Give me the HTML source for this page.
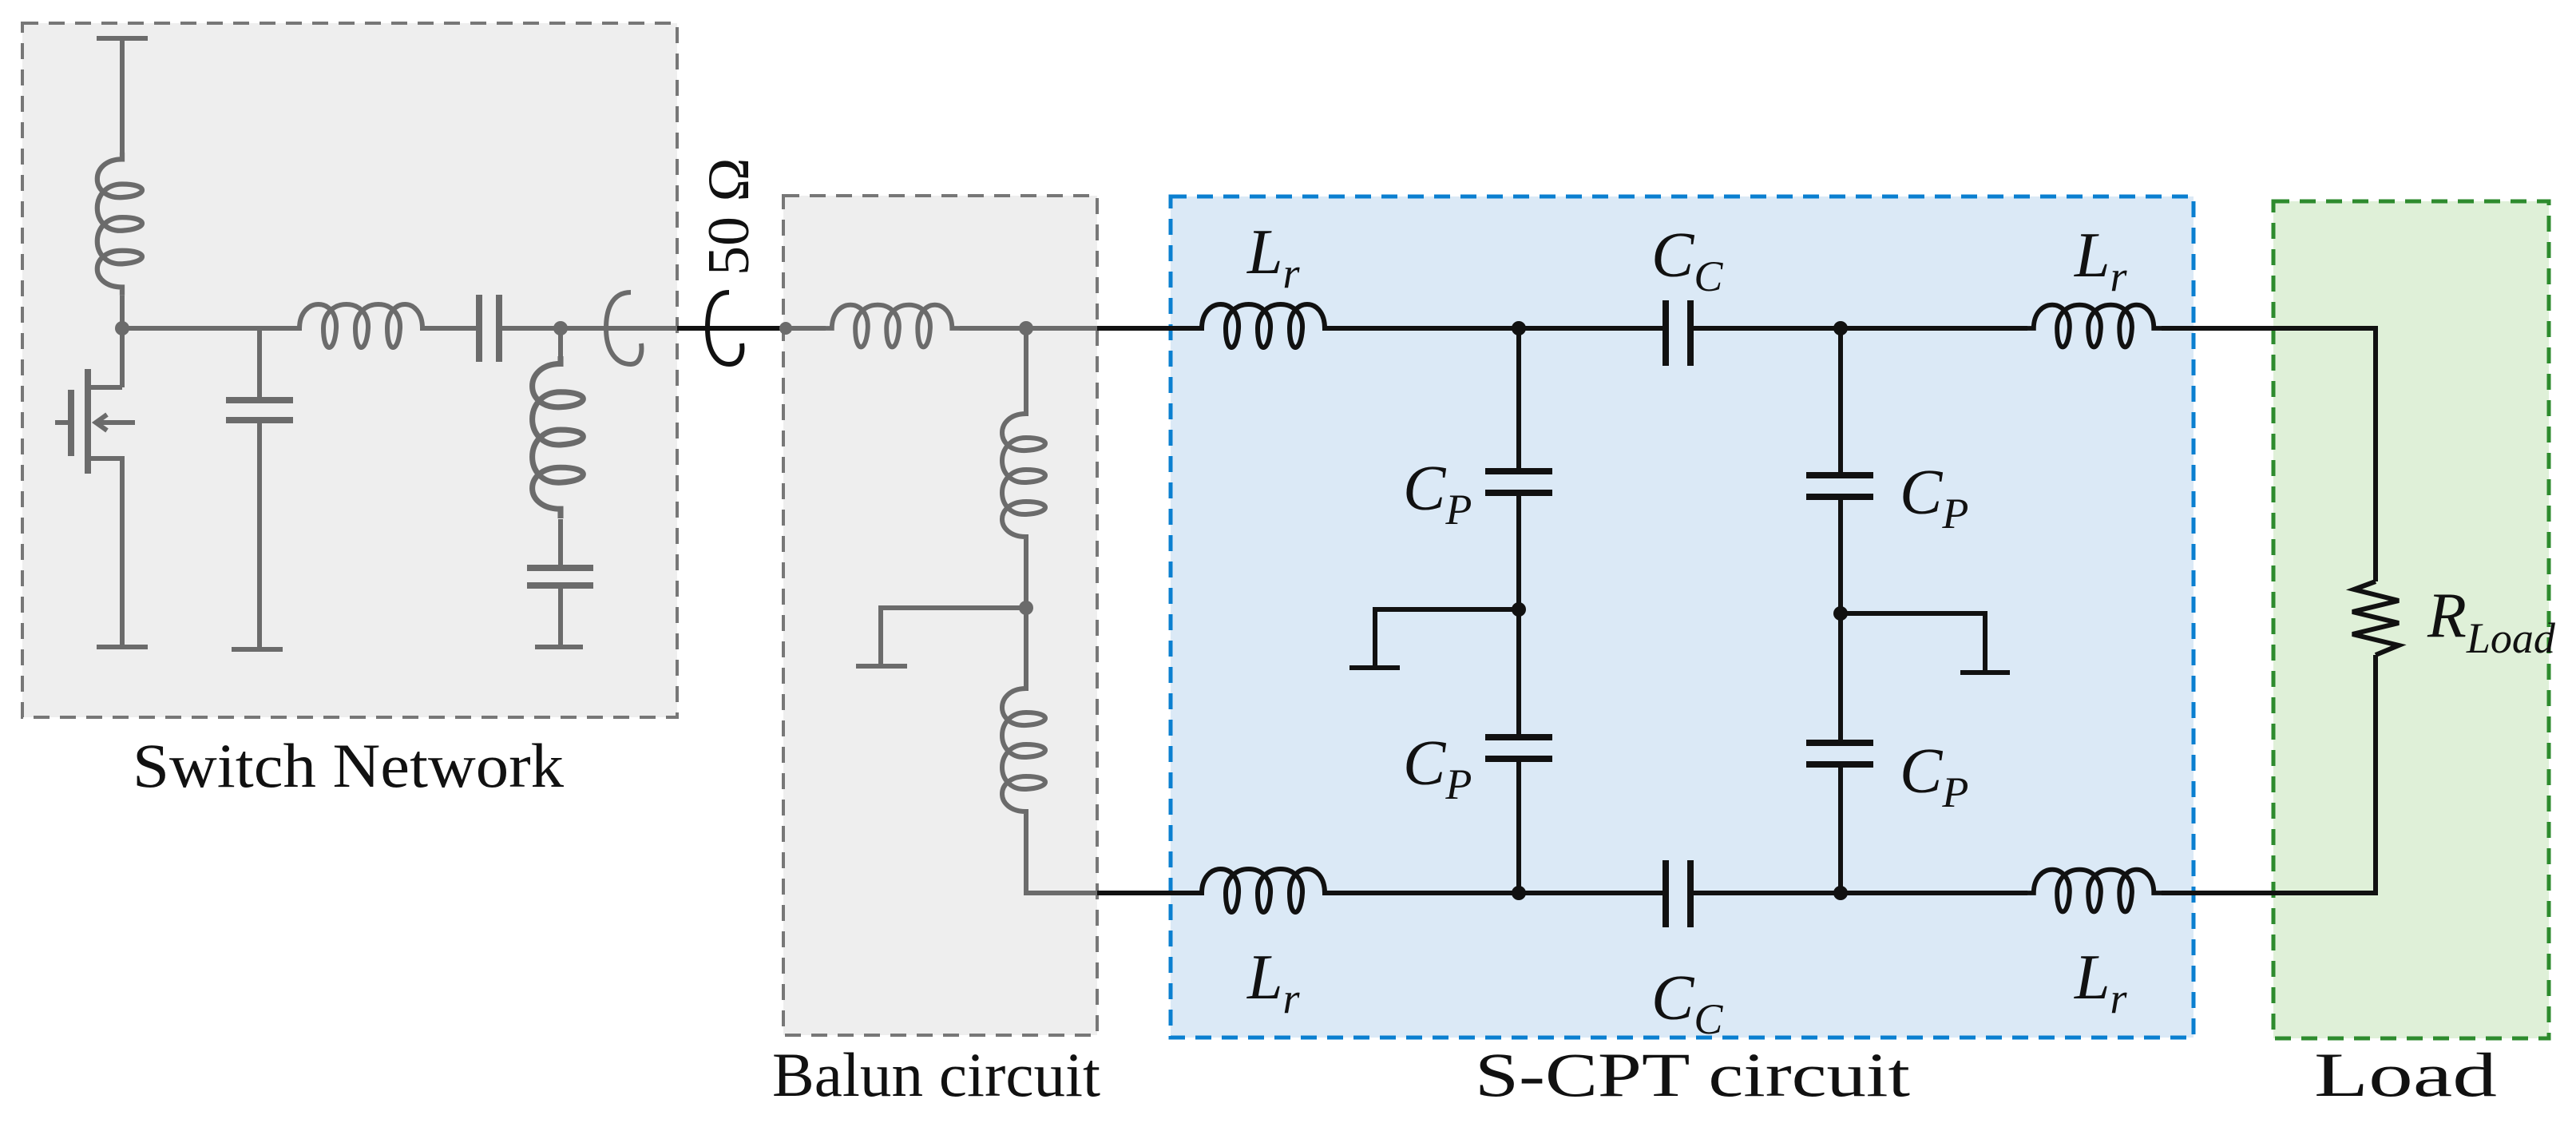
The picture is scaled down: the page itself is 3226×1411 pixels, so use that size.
<!DOCTYPE html>
<html><head><meta charset="utf-8"><style>
html,body{margin:0;padding:0;background:#fff;}
svg{display:block;}
text{font-family:"Liberation Serif",serif;}
.lab{font-style:italic;font-size:80px;fill:#111;}
.sub{font-size:54px;}
.sec{font-size:78px;fill:#111;}
</style></head><body>
<svg width="3226" height="1411" viewBox="0 0 3226 1411" xmlns="http://www.w3.org/2000/svg">
<defs>
<path id="ind" d="M0 0 H8 C8 -40, 56 -40, 54 0 C52 32, 38 32, 38 0 C38 -40, 96 -40, 94 0 C92 32, 78 32, 78 0 C78 -40, 136 -40, 134 0 C132 32, 118 32, 118 0 C118 -40, 162 -40, 162 0 H172" fill="none"/>
</defs>
<!-- boxes -->
<rect x="28" y="29" width="820" height="869" fill="#eeeeee" stroke="#777" stroke-width="4" stroke-dasharray="20 13"/>
<rect x="981" y="245" width="393" height="1051" fill="#eeeeee" stroke="#777" stroke-width="4" stroke-dasharray="20 13"/>
<rect x="1466" y="246" width="1281" height="1053" fill="#dbe9f6" stroke="#0a7fd0" stroke-width="5" stroke-dasharray="20 13"/>
<rect x="2847" y="252" width="345" height="1048" fill="#dff0d8" stroke="#2e8b2e" stroke-width="5" stroke-dasharray="20 13"/>

<!-- switch network (gray) -->
<g stroke="#6b6b6b" stroke-width="6" fill="none">
<line x1="121" y1="48" x2="185" y2="48"/>
<line x1="153" y1="48" x2="153" y2="191"/>
<use href="#ind" transform="translate(153,191) rotate(90) scale(1,-1) scale(1.04)"/>
<line x1="153" y1="370" x2="153" y2="485"/>
<line x1="153" y1="411" x2="367" y2="411"/>
<use href="#ind" transform="translate(367,411)"/>
<line x1="539" y1="411" x2="600" y2="411"/>
<line x1="625" y1="411" x2="848" y2="411"/>
<line x1="600" y1="369" x2="600" y2="453" stroke-width="8"/>
<line x1="625" y1="369" x2="625" y2="453" stroke-width="8"/>
<!-- transistor -->
<polyline points="153,485 110,485"/>
<line x1="110" y1="462" x2="110" y2="593" stroke-width="8"/>
<line x1="89" y1="488" x2="89" y2="571" stroke-width="8"/>
<line x1="69" y1="529" x2="89" y2="529"/>
<line x1="169" y1="529" x2="122" y2="529"/>
<polyline points="134,519 120,529 134,539"/>
<polyline points="110,574 153,574 153,810"/>
<line x1="121" y1="810" x2="185" y2="810"/>
<!-- shunt cap -->
<line x1="325" y1="411" x2="325" y2="501"/>
<line x1="283" y1="501" x2="367" y2="501" stroke-width="8"/>
<line x1="283" y1="526" x2="367" y2="526" stroke-width="8"/>
<line x1="325" y1="526" x2="325" y2="813"/>
<line x1="290" y1="813" x2="354" y2="813"/>
<!-- shunt LC -->
<line x1="702" y1="411" x2="702" y2="446"/>
<use href="#ind" transform="translate(702,446) rotate(90) scale(1,-1) scale(1.18)"/>
<line x1="702" y1="650" x2="702" y2="711"/>
<line x1="660" y1="711" x2="743" y2="711" stroke-width="8"/>
<line x1="660" y1="733" x2="743" y2="733" stroke-width="8"/>
<line x1="702" y1="733" x2="702" y2="810"/>
<line x1="670" y1="810" x2="730" y2="810"/>
<!-- probe loop -->
<path d="M790 366 C765 366, 759 390, 759 411 C759 440, 772 456, 790 456 C800 456, 805 445, 803 430"/>
</g>
<circle cx="153" cy="411" r="9" fill="#6b6b6b"/>
<circle cx="702" cy="411" r="9" fill="#6b6b6b"/>

<!-- 50 ohm -->
<g stroke="#111" stroke-width="6" fill="none">
<line x1="848" y1="411" x2="984" y2="411"/>
<path d="M913 366 C890 366, 886 390, 886 411 C886 440, 898 456, 913 456 C926 456, 931 445, 929 430"/>
</g>
<text transform="translate(937,345) rotate(-90)" font-size="74" fill="#111">50 Ω</text>

<!-- balun (gray) -->
<g stroke="#6b6b6b" stroke-width="6" fill="none">
<line x1="984" y1="411" x2="1034" y2="411"/>
<use href="#ind" transform="translate(1034,411) scale(0.977)"/>
<line x1="1202" y1="411" x2="1374" y2="411"/>
<line x1="1285" y1="411" x2="1285" y2="510"/>
<use href="#ind" transform="translate(1285,510)rotate(90) scale(1,-1)"/>
<line x1="1285" y1="682" x2="1285" y2="854"/>
<polyline points="1285,761 1103,761 1103,834"/>
<line x1="1072" y1="834" x2="1136" y2="834"/>
<use href="#ind" transform="translate(1285,854) rotate(90) scale(1,-1)"/>
<polyline points="1285,1025 1285,1118 1374,1118"/>
</g>
<circle cx="984" cy="411" r="8" fill="#6b6b6b"/>
<circle cx="1285" cy="411" r="9" fill="#6b6b6b"/>
<circle cx="1285" cy="761" r="9" fill="#6b6b6b"/>

<!-- S-CPT (black) -->
<g stroke="#111" stroke-width="6" fill="none">
<line x1="1374" y1="411" x2="1497" y2="411"/>
<use href="#ind" transform="translate(1497,411)"/>
<line x1="1669" y1="411" x2="2086" y2="411"/>
<line x1="2117" y1="411" x2="2539" y2="411"/>
<use href="#ind" transform="translate(2539,411) scale(0.977)"/>
<polyline points="2707,411 2975,411 2975,728"/>
<polyline points="2975,728 2948,738 3004,752 2946,766 3004,780 2946,794 3004,808 2975,820"/>
<polyline points="2975,820 2975,1118 2707,1118"/>
<use href="#ind" transform="translate(2539,1118) scale(0.977)"/>
<line x1="2539" y1="1118" x2="2117" y2="1118"/>
<line x1="2086" y1="1118" x2="1669" y2="1118"/>
<use href="#ind" transform="translate(1497,1118)"/>
<line x1="1497" y1="1118" x2="1374" y2="1118"/>
<line x1="2086" y1="376" x2="2086" y2="458" stroke-width="8"/>
<line x1="2117" y1="376" x2="2117" y2="458" stroke-width="8"/>
<line x1="2086" y1="1077" x2="2086" y2="1161" stroke-width="8"/>
<line x1="2117" y1="1077" x2="2117" y2="1161" stroke-width="8"/>
<line x1="1902" y1="411" x2="1902" y2="590"/>
<line x1="1860" y1="590" x2="1944" y2="590" stroke-width="8"/>
<line x1="1860" y1="617" x2="1944" y2="617" stroke-width="8"/>
<line x1="1902" y1="617" x2="1902" y2="923"/>
<line x1="1860" y1="923" x2="1944" y2="923" stroke-width="8"/>
<line x1="1860" y1="950" x2="1944" y2="950" stroke-width="8"/>
<line x1="1902" y1="950" x2="1902" y2="1118"/>
<polyline points="1902,763 1722,763 1722,836"/>
<line x1="1690" y1="836" x2="1753" y2="836"/>
<line x1="2305" y1="411" x2="2305" y2="595"/>
<line x1="2262" y1="595" x2="2346" y2="595" stroke-width="8"/>
<line x1="2262" y1="622" x2="2346" y2="622" stroke-width="8"/>
<line x1="2305" y1="622" x2="2305" y2="930"/>
<line x1="2262" y1="930" x2="2346" y2="930" stroke-width="8"/>
<line x1="2262" y1="957" x2="2346" y2="957" stroke-width="8"/>
<line x1="2305" y1="957" x2="2305" y2="1118"/>
<polyline points="2305,768 2486,768 2486,842"/>
<line x1="2455" y1="842" x2="2517" y2="842"/>
</g>
<g fill="#111">
<circle cx="1902" cy="411" r="9"/><circle cx="1902" cy="763" r="9"/><circle cx="1902" cy="1118" r="9"/>
<circle cx="2305" cy="411" r="9"/><circle cx="2305" cy="768" r="9"/><circle cx="2305" cy="1118" r="9"/>
</g>

<!-- component labels -->
<text class="lab" x="1562" y="342">L<tspan class="sub" dy="18">r</tspan></text>
<text class="lab" x="2598" y="346">L<tspan class="sub" dy="18">r</tspan></text>
<text class="lab" x="1562" y="1250">L<tspan class="sub" dy="18">r</tspan></text>
<text class="lab" x="2598" y="1250">L<tspan class="sub" dy="18">r</tspan></text>
<text class="lab" x="2068" y="346">C<tspan class="sub" dy="18">C</tspan></text>
<text class="lab" x="2068" y="1276">C<tspan class="sub" dy="18">C</tspan></text>
<text class="lab" x="1757" y="638">C<tspan class="sub" dy="18">P</tspan></text>
<text class="lab" x="1757" y="982">C<tspan class="sub" dy="18">P</tspan></text>
<text class="lab" x="2379" y="643">C<tspan class="sub" dy="18">P</tspan></text>
<text class="lab" x="2379" y="992">C<tspan class="sub" dy="18">P</tspan></text>
<text class="lab" x="3040" y="797" font-size="78">R<tspan class="sub" dy="20">Load</tspan></text>

<!-- section labels -->
<text class="sec" x="166" y="985" textLength="540" lengthAdjust="spacingAndGlyphs">Switch Network</text>
<text class="sec" x="967" y="1372" textLength="411" lengthAdjust="spacingAndGlyphs">Balun circuit</text>
<text class="sec" x="1847" y="1372" textLength="545" lengthAdjust="spacingAndGlyphs">S-CPT circuit</text>
<text class="sec" x="2898" y="1372" textLength="229" lengthAdjust="spacingAndGlyphs">Load</text>
</svg>
</body></html>
